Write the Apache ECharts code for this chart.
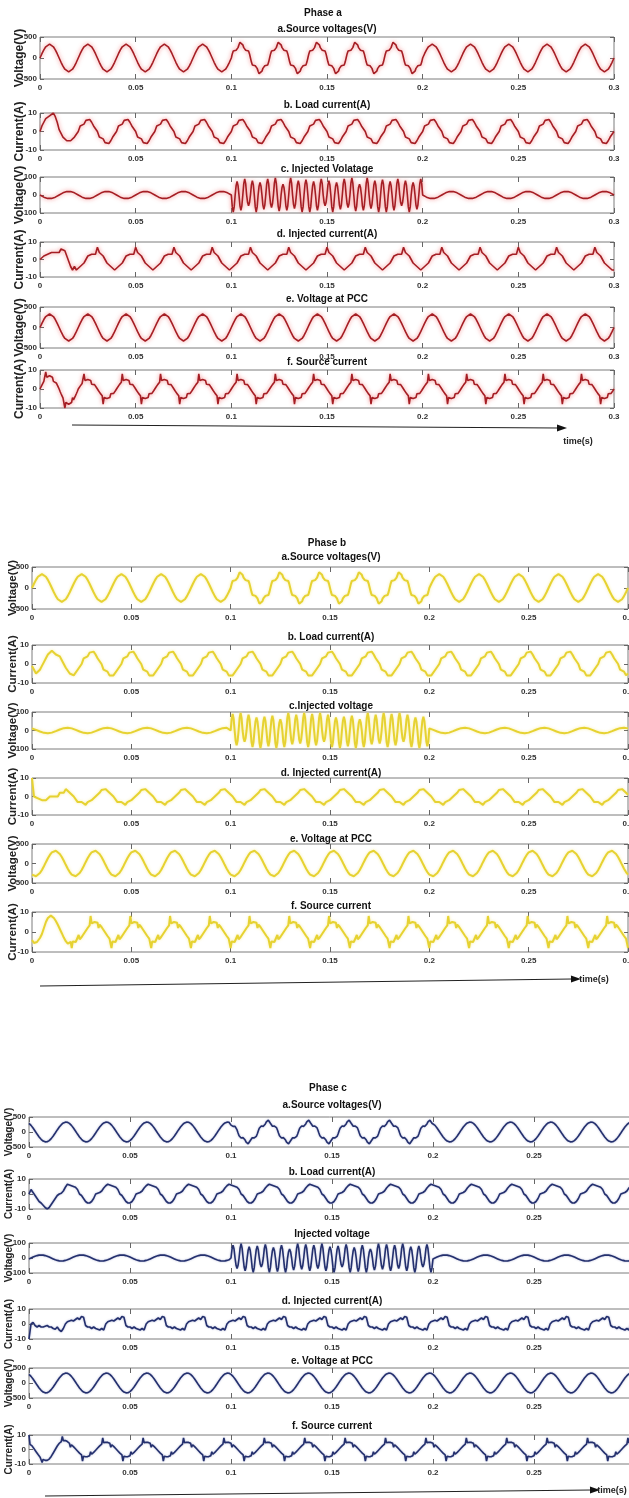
<!DOCTYPE html>
<html>
<head>
<meta charset="utf-8">
<script src="https://cdn.jsdelivr.net/npm/echarts@6/dist/echarts.min.js"></script>
<style>
  html, body { margin: 0; padding: 0; background: #fff; }
  #chart { width: 629px; height: 1498px; }
</style>
</head>
<body>
<div id="chart"></div>
<script>
// ---------- time axis ----------
const timeMax = 0.3;
const timeStep = 0.05;
const CYCLE = 0.02;               // one 50 Hz period

// ---------- y limits / names per row ----------
const yLimits = [500, 10, 100, 10, 500, 10];
const yNames = ['Voltage(V)', 'Current(A)', 'Voltage(V)', 'Current(A)', 'Voltage(V)', 'Current(A)'];
const titlesA = ['a.Source voltages(V)', 'b. Load current(A)', 'c. Injected Volatage', 'd. Injected current(A)', 'e. Voltage at PCC', 'f. Source current'];
const titlesB = ['a.Source voltages(V)', 'b. Load current(A)', 'c.Injected voltage', 'd. Injected current(A)', 'e. Voltage at PCC', 'f. Source current'];
const titlesC = ['a.Source voltages(V)', 'b. Load current(A)', 'Injected voltage', 'd. Injected current(A)', 'e. Voltage at PCC', 'f. Source current'];
const phaseNames = ['Phase a', 'Phase b', 'Phase c'];

// ---------- one-cycle samples: voltages (V) ----------
const sineA = [0, 102, 194, 267, 314, 330, 314, 267, 194, 102, 0, -102, -194, -267, -314, -330, -314, -267, -194, -102];
const sineB = [-286, -323, -328, -301, -245, -165, -69, 34, 134, 221, 286, 323, 328, 301, 245, 165, 69, -34, -134, -221];
const sineC = [286, 221, 134, 35, -69, -165, -245, -302, -328, -323, -286, -221, -134, -35, 69, 165, 245, 302, 328, 323];
const sagAB = [0, 98, 168, 196, 194, 187, 201, 247, 314, 373, 396, 373, 314, 247, 201, 187, 194, 196, 168, 98,
               0, -98, -168, -196, -194, -187, -201, -247, -314, -373, -396, -373, -314, -247, -201, -187, -194, -196, -168, -98];
const sagC = [229, 193, 188, 197, 191, 149, 68, -34, -126, -182, -198, -190, -188, -213, -269, -336, -385, -393, -356, -291,
              -229, -193, -188, -197, -191, -149, -68, 34, 126, 182, 198, 190, 188, 213, 269, 336, 385, 393, 356, 291];

// injected voltage: small ripple and the 0.1–0.2 s burst
const injSmallA = [0, -6, -12, -16, -19, -20, -19, -16, -12, -6, 0, 6, 12, 16, 19, 20, 19, 16, 12, 6];
const injSmallB = [11.5, 8, 3.6, -1, -5.6, -9.6, -12.7, -14.6, -15, -13.9, -11.5, -8, -3.6, 1, 5.6, 9.6, 12.7, 14.6, 15, 13.9];
const injSmallC = [-6, 0, 6, 12, 16, 19, 20, 19, 16, 12, 6, 0, -6, -12, -16, -19, -20, -19, -16, -12];
const hfA1 = [0, -66, -95, -66, 0, 52, 75, 52, 0, -60, -85, -60, 0, 63, 90, 63, 0, -42, -60, -42, 0, 56, 80, 56, 0, -66, -95, -66, 0, 49, 70, 49, 0, -56, -80, -56, 0, 63, 90, 63];
const hfA2 = [0, -49, -70, -49, 0, 66, 95, 66, 0, -63, -90, -63, 0, 42, 60, 42, 0, -60, -85, -60, 0, 66, 95, 66, 0, -52, -75, -52, 0, 56, 80, 56, 0, -66, -95, -66, 0, 60, 85, 60];
const hfB1 = [0, 63, 90, 63, 0, -56, -80, -56, 0, 66, 95, 66, 0, -42, -60, -42, 0, 60, 85, 60, 0, -63, -90, -63, 0, 49, 70, 49, 0, -66, -95, -66, 0, 52, 75, 52, 0, -60, -85, -60];
const hfB2 = [0, 56, 80, 56, 0, -66, -95, -66, 0, 42, 60, 42, 0, -63, -90, -63, 0, 66, 95, 66, 0, -52, -75, -52, 0, 60, 85, 60, 0, -49, -70, -49, 0, 66, 95, 66, 0, -63, -90, -63];
const hfC1 = [0, 60, 85, 60, 0, -49, -70, -49, 0, 66, 95, 66, 0, -60, -85, -60, 0, 52, 75, 52, 0, -66, -95, -66, 0, 56, 80, 56, 0, -42, -60, -42, 0, 63, 90, 63, 0, -66, -95, -66];
const hfC2 = [0, 49, 70, 49, 0, -63, -90, -63, 0, 60, 85, 60, 0, -66, -95, -66, 0, 42, 60, 42, 0, -56, -80, -56, 0, 66, 95, 66, 0, -52, -75, -52, 0, 63, 90, 63, 0, -60, -85, -60];

// ---------- one-cycle samples: currents (A) ----------
const loadAStart = [0, 3, 5, 7, 8, 8.5, 9.5, 10, 8, 5, 1, -1, -3, -3, -5, -6, -5, -6, -3, -2];
const loadA = [0, 3, 3, 4, 6, 5, 6.5, 5, 3, 3, 0, -3, -3, -4, -6, -5, -6.5, -5, -3, -3];
const loadBStart = [-1, -3, -5, -5, -3, -1, 1, 3, 5, 6, 7, 6, 5, 6, 4, 2, 0, -2, -3, -5];
const loadB = [-5, -6, -5, -3, -3, 0, 3, 3, 4, 6, 5, 6.5, 5, 3, 3, 0, -3, -3, -4, -6];
const loadCStart = [0, 3, 1, -1, -3, -5, -6, -7.5, -9, -10, -9, -7, -5, -3, -1, 0, 0.5, 2, 4.5, 6.5];
const loadC = [6, 5.5, 5, 4.5, 3, 0, -1, -3, -5, -6, -6, -5, -3, 0, 0.5, 1, 2, 4, 5.5, 6.5];

const injIAStart = [0, 1, 2, 2, 3, 2, 4, 3, 4, 5, 4, 6, 7, 5, 2, -1, -4, -6, -4, -6];
const injIA = [-6, -4, -5, -2, 0, 2, 1, 3, 4, 3, 7, 4, 5, 2, 0, -2, -1, -4, -3, -6];
const injIBStart = [10, 0, 1, -1, 0, -2, -1, -2, -1, 0, -1, 0, 1, 0, 2, 3, 2, 4, 4.5, 2];
const injIB = [1, 0, -1, -3, -2, -3, -4, -4.5, -3, -4, -2, -1, 0, 1, 2, 3.5, 3, 4, 4.5, 2];
const injICStart = [-10, 0, 1, -1, -2, -1, -2, -2, -1.5, -1, -2, -2, -3, -3.5, -2, -4, -5, -3, 0, 1.5];
const injIC = [2, 2.5, 2, 3, 4, 3, 5, 4.5, -1, -2, -2, -3, -2, -3, -3.5, -4, -3, -4, 0, 1.5];

const srcIAStart = [0, 1, 2, 3, 4, 5, 9, 6.2, 6.6, 6.9, 7, 6.9, 6.6, 6.2, 4, 5, 4.1, 3.2, 2.2, 1.1,
                    0, -1.3, -2.5, -3.6, -4.7, -5.7, -10, -7.1, -7.6, -7.9, -8, -7.9, -7.6, -7.1, -4.5, -5.7, -4.7, -3.6, -2.5, -1.3];
const srcIA = [0, 0.8, 1.5, 2.3, 2.9, 3.5, 8, 4.5, 4.8, 5.2, 5, 4.7, 4.8, 4.5, 2.5, 3.5, 2.9, 2.3, 1.5, 0.8,
               0, -0.8, -1.5, -2.3, -2.9, -3.5, -8, -4.5, -4.8, -5.2, -5, -4.7, -4.8, -4.5, -2.5, -3.5, -2.9, -2.3, -1.5, -0.8];
const srcIBStart = [-4, -5, -5.5, -5, -5.5, -5, -4.5, -4, -3, -2, -1, 0.5, 2, 3.5, 5, 6, 7, 7.5, 8, 8.2,
                    8, 7.6, 7, 6.3, 5.5, 4.6, 3.6, 2.6, 1.5, 0.5, -0.6, -1.7, -2.8, -3.8, -4.6, -5.3, -5.8, -6.1, -5.6, -5];
const srcIB = [-8, -4.7, -4.9, -5, -5, -4.8, -4.6, -1.5, -3.7, -3.1, -2.5, -1.8, -1, -0.3, 0.5, 1.3, 2, 2.7, 3.3, 8,
               4.3, 4.7, 4.9, 5, 5, 4.8, 4.6, 2, 3.7, 3.1, 2.5, 1.8, 1, 0.3, -0.5, -1.3, -2, -2.7, -3.3, -3.9];
const srcICStart = [10, 3.5, 3, 2.5, 1.5, 0.5, -0.5, -1.5, -2.5, -3.5, -4.5, -5.3, -6, -9, -6.8, -7.2, -7.5, -7.6, -7.5, -7.2,
                    -6.6, -5.8, -4.8, -3.6, -2.4, -1.2, 0, 1.2, 2.4, 3.4, 4.3, 5, 5.5, 9, 6.1, 6.3, 6.2, 6, 5.5, 5];
const srcIC = [4.3, 1.5, 3.3, 2.7, 2, 1.3, 0.5, -0.3, -1, -1.8, -2.5, -3.1, -3.7, -8, -4.6, -4.8, -5, -5, -4.9, -4.7,
               -4.3, -1.5, -3.3, -2.7, -2, -1.3, -0.5, 0.3, 1, 1.8, 2.5, 3.1, 3.7, 8, 4.6, 4.8, 5, 5, 4.9, 4.7];

// ---------- cycle sequences over 0 – 0.3 s ----------
const plansA = [
  [[sineA, 5], [sagAB, 5], [sineA, 5]],
  [[loadAStart, 1], [loadA, 14]],
  [[injSmallA, 5], [hfA1, 1], [hfA2, 1], [hfA1, 1], [hfA2, 1], [hfA1, 1], [injSmallA, 5]],
  [[injIAStart, 1], [injIA, 14]],
  [[sineA, 15]],
  [[srcIAStart, 1], [srcIA, 14]]
];
const plansB = [
  [[sineA, 5], [sagAB, 5], [sineA, 5]],
  [[loadBStart, 1], [loadB, 14]],
  [[injSmallB, 5], [hfB1, 1], [hfB2, 1], [hfB1, 1], [hfB2, 1], [hfB1, 1], [injSmallB, 5]],
  [[injIBStart, 1], [injIB, 14]],
  [[sineB, 15]],
  [[srcIBStart, 1], [srcIB, 14]]
];
const plansC = [
  [[sineC, 5], [sagC, 5], [sineC, 5]],
  [[loadCStart, 1], [loadC, 14]],
  [[injSmallC, 5], [hfC1, 1], [hfC2, 1], [hfC1, 1], [hfC2, 1], [hfC1, 1], [injSmallC, 5]],
  [[injICStart, 1], [injIC, 14]],
  [[sineC, 15]],
  [[srcICStart, 1], [srcIC, 14]]
];

// lay consecutive cycles end to end on the time axis
function tile(plan) {
  const pts = [];
  let t0 = 0, last = null;
  plan.forEach(([shape, n]) => {
    const dt = CYCLE / shape.length;
    for (let c = 0; c < n; c++) {
      shape.forEach((v, k) => pts.push([+(t0 + k * dt).toFixed(5), v]));
      t0 += CYCLE;
    }
    last = shape;
  });
  pts.push([+t0.toFixed(5), last[0]]);
  return pts;
}

// ---------- page layout (pixels) ----------
const layouts = [
  { left: 40, width: 574, tops: [37, 113, 177, 242, 307, 370], heights: [42, 37, 36, 35, 41, 38],
    titleY: [29, 105, 169, 234, 299, 362], headY: 13, cx: 327, nameX: 19.5, nameSize: 12,
    arrow: [72, 425, 558, 428], timeXY: [578, 442] },
  { left: 32, width: 596, tops: [567, 645, 712, 778, 844, 912], heights: [42, 38, 37, 37, 39, 40],
    titleY: [557, 637, 706, 773, 839, 906], headY: 543, cx: 331, nameX: 12.5, nameSize: 11.5,
    arrow: [40, 986, 572, 979], timeXY: [594, 980] },
  { left: 29, width: 606, tops: [1117, 1179, 1243, 1309, 1368, 1435], heights: [30, 30, 30, 30, 30, 29],
    titleY: [1105, 1172, 1234, 1301, 1361, 1426], headY: 1088, cx: 332, nameX: 9, nameSize: 10,
    arrow: [45, 1496, 591, 1490], timeXY: [612, 1491] }
];
const lineStyles = [
  { color: '#a51e24', width: 1.6, shadowColor: 'rgba(240,100,100,0.8)', shadowBlur: 4 },
  { color: '#e6d232', width: 2, shadowColor: 'rgba(245,230,120,0.7)', shadowBlur: 3 },
  { color: '#24306e', width: 1.6, shadowColor: 'rgba(80,90,160,0.45)', shadowBlur: 2 }
];
const NARROW = '"Liberation Sans Narrow", "Arial Narrow", "Liberation Sans", Arial, sans-serif';
const SANS = '"Liberation Sans", Arial, sans-serif';

const grids = [], xAxes = [], yAxes = [], series = [], graphics = [];
const allPlans = [plansA, plansB, plansC];
const allTitles = [titlesA, titlesB, titlesC];

allPlans.forEach((plans, p) => {
  const L = layouts[p];
  graphics.push({ type: 'text', x: L.cx - 4, y: L.headY,
    style: { text: phaseNames[p], font: 'bold 10px ' + NARROW, fill: '#111', textAlign: 'center', textVerticalAlign: 'middle' } });
  plans.forEach((plan, r) => {
    const g = grids.length;
    grids.push({ left: L.left, width: L.width, top: L.tops[r], height: L.heights[r],
      containLabel: false, outerBoundsMode: 'none',
      show: true, borderColor: '#7d7d7d', borderWidth: 1, backgroundColor: 'transparent' });
    const xBase = { type: 'value', gridIndex: g, min: 0, max: timeMax, interval: timeStep,
      axisLine: { show: false, onZero: false }, splitLine: { show: false },
      axisTick: { inside: true, length: 5, lineStyle: { color: '#666' } } };
    xAxes.push(Object.assign({}, xBase, { position: 'bottom',
      axisLabel: { fontSize: 8, color: '#333', margin: 5, fontWeight: 'bold', fontFamily: NARROW,
        formatter: v => (v === 0 ? '0' : String(parseFloat(v.toFixed(2)))) } }));
    xAxes.push(Object.assign({}, xBase, { position: 'top', axisLabel: { show: false } }));
    const lim = yLimits[r];
    const yBase = { type: 'value', gridIndex: g, min: -lim, max: lim, interval: lim,
      axisLine: { show: false, onZero: false }, splitLine: { show: false },
      axisTick: { inside: true, length: 4, lineStyle: { color: '#666' } } };
    yAxes.push(Object.assign({}, yBase, { position: 'left',
      axisLabel: { fontSize: 8, color: '#333', margin: 3, fontWeight: 'bold', fontFamily: NARROW } }));
    yAxes.push(Object.assign({}, yBase, { position: 'right', axisLabel: { show: false } }));
    series.push({ type: 'line', xAxisIndex: 2 * g, yAxisIndex: 2 * g, data: tile(plan),
      showSymbol: false, symbol: 'none', clip: true, animation: false, silent: true,
      lineStyle: lineStyles[p] });
    graphics.push({ type: 'text', x: L.cx, y: L.titleY[r],
      style: { text: allTitles[p][r], font: 'bold 10px ' + NARROW, fill: '#111', textAlign: 'center', textVerticalAlign: 'middle' } });
    graphics.push({ type: 'text', x: L.nameX, y: L.tops[r] + L.heights[r] / 2, rotation: Math.PI / 2,
      style: { text: yNames[r], font: 'bold ' + L.nameSize + 'px ' + SANS, fill: '#222', textAlign: 'center', textVerticalAlign: 'middle' } });
  });
  const [x1, y1, x2, y2] = L.arrow;
  graphics.push({ type: 'line', shape: { x1, y1, x2, y2 }, style: { stroke: '#222', lineWidth: 1.2 } });
  const ang = Math.atan2(y2 - y1, x2 - x1);
  const tipX = x2 + 9 * Math.cos(ang), tipY = y2 + 9 * Math.sin(ang);
  const bx = x2 - 1 * Math.cos(ang), by = y2 - 1 * Math.sin(ang);
  graphics.push({ type: 'polygon', shape: { points: [
    [tipX, tipY],
    [bx + 3.5 * Math.sin(ang), by - 3.5 * Math.cos(ang)],
    [bx - 3.5 * Math.sin(ang), by + 3.5 * Math.cos(ang)]
  ] }, style: { fill: '#111' } });
  graphics.push({ type: 'text', x: L.timeXY[0], y: L.timeXY[1],
    style: { text: 'time(s)', font: 'bold 9px ' + NARROW, fill: '#222', textAlign: 'center', textVerticalAlign: 'middle' } });
});

const chart = echarts.init(document.getElementById('chart'), null, { renderer: 'canvas' });
chart.setOption({
  animation: false,
  backgroundColor: '#fff',
  grid: grids,
  xAxis: xAxes,
  yAxis: yAxes,
  series: series,
  graphic: { elements: graphics }
});
</script>
</body>
</html>
